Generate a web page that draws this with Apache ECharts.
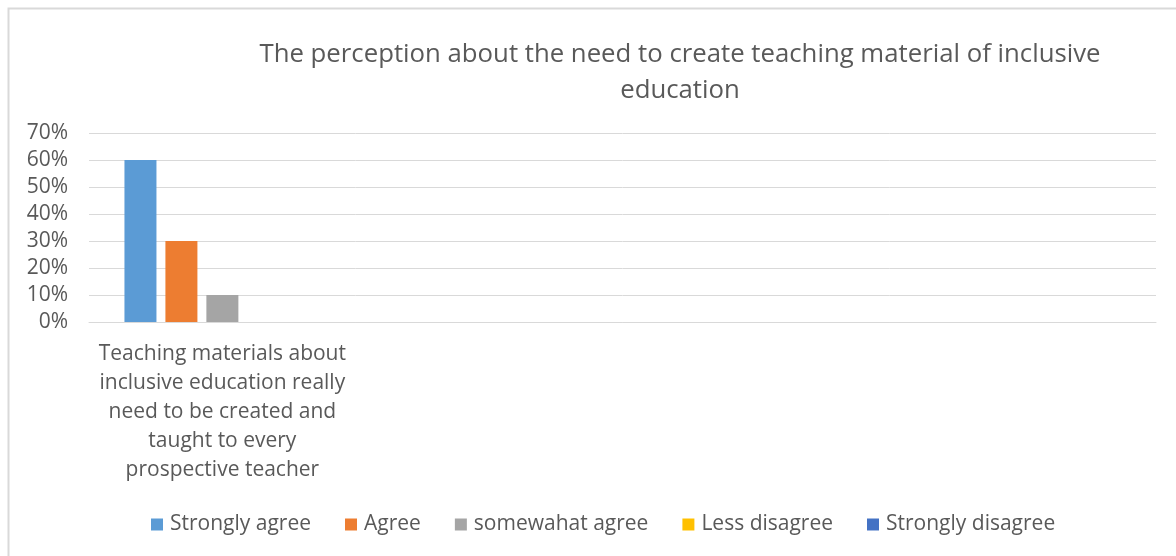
<!DOCTYPE html>
<html>
<head>
<meta charset="utf-8">
<style>
  html, body { margin: 0; padding: 0; background: #ffffff; }
  #chart { width: 1176px; height: 556px; }
</style>
<script src="https://cdn.jsdelivr.net/npm/echarts@6/dist/echarts.min.js"></script>
</head>
<body>
<div id="chart"></div>
<script>
// Survey question categories (only the first one carries answers)
const categories = [
  'Teaching materials about\ninclusive education really\nneed to be created and\ntaught to every\nprospective teacher',
  '', '', ''
];
// Answer options shown in the legend
const seriesNames = ['Strongly agree', 'Agree', 'somewahat agree', 'Less disagree', 'Strongly disagree'];
// Share of respondents (%) per answer option, per category
const stronglyAgree = [60, '-', '-', '-'];
const agree = [30, '-', '-', '-'];
const somewhatAgree = [10, '-', '-', '-'];
const lessDisagree = [0, '-', '-', '-'];
const stronglyDisagree = [0, '-', '-', '-'];
// Value axis ticks
const yTicks = { min: 0, max: 70, interval: 10 };

const seriesValues = [stronglyAgree, agree, somewhatAgree, lessDisagree, stronglyDisagree];
const colors = ['#5b9bd5', '#ed7d31', '#a5a5a5', '#ffc000', '#4472c4'];
const fontFamily = '"Open Sans", sans-serif';
const textColor = '#595959';

const chart = echarts.init(document.getElementById('chart'), null, { renderer: 'canvas' });
chart.setOption({
  animation: false,
  color: colors,
  textStyle: { fontFamily: fontFamily },
  graphic: [{
    type: 'rect',
    shape: { x: 8.5, y: 8.5, width: 1200, height: 600 },
    style: { fill: 'none', stroke: '#d9d9d9', lineWidth: 2 },
    silent: true
  }],
  title: {
    text: 'The perception about the need to create teaching material of inclusive\neducation',
    left: 675,
    top: 32,
    textAlign: 'center',
    textStyle: {
      fontFamily: fontFamily,
      fontSize: 25.75,
      fontWeight: 'normal',
      color: textColor,
      lineHeight: 36
    }
  },
  legend: {
    data: seriesNames,
    bottom: 16,
    left: 146,
    itemWidth: 12,
    itemHeight: 12,
    itemGap: 34,
    icon: 'rect',
    textStyle: { fontFamily: fontFamily, fontSize: 21, color: textColor, padding: [0, 0, 0, 2] }
  },
  grid: { left: 89, right: 20, top: 133, bottom: 234 },
  xAxis: {
    type: 'category',
    data: categories,
    axisLine: { show: true, lineStyle: { color: '#d9d9d9', width: 1 } },
    axisTick: { show: false },
    axisLabel: {
      interval: 0,
      margin: 18,
      fontFamily: fontFamily,
      fontSize: 21,
      lineHeight: 29,
      color: textColor,
      align: 'center'
    }
  },
  yAxis: {
    type: 'value',
    min: yTicks.min,
    max: yTicks.max,
    interval: yTicks.interval,
    axisLine: { show: false },
    axisTick: { show: false },
    splitLine: { lineStyle: { color: '#d9d9d9', width: 1 } },
    axisLabel: {
      formatter: '{value}%',
      margin: 21,
      fontFamily: fontFamily,
      fontSize: 21,
      color: textColor
    }
  },
  series: seriesNames.map((name, i) => ({
    name: name,
    type: 'bar',
    data: seriesValues[i],
    barWidth: 32,
    barGap: '28%'
  }))
});
</script>
</body>
</html>
